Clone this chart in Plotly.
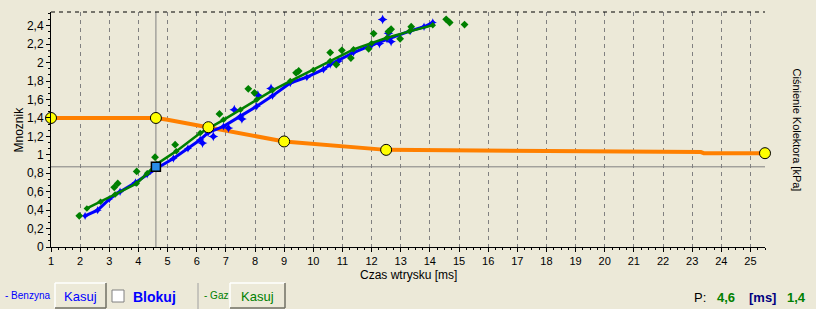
import plotly.graph_objects as go

# ---------------- data ----------------
x_ticks = list(range(1, 26))
y_tickvals = [0, 0.2, 0.4, 0.6, 0.8, 1.0, 1.2, 1.4, 1.6, 1.8, 2.0, 2.2, 2.4]
y_ticktext = ["0", "0,2", "0,4", "0,6", "0,8", "1", "1,2", "1,4", "1,6", "1,8", "2", "2,2", "2,4"]
y2_tickvals = [0, 10, 20, 30, 40, 50, 60, 70, 80, 90, 100]

# multiplier map (orange curve) and its control points
map_x = [1, 4.6, 5.0, 6.4, 9.0, 12.5, 19.0, 23.3, 23.4, 25.5]
map_y = [1.4, 1.4, 1.38, 1.3, 1.145, 1.054, 1.04, 1.03, 1.018, 1.018]
ctrl_x = [1, 4.6, 6.4, 9.0, 12.5, 25.5]
ctrl_y = [1.4, 1.4, 1.3, 1.145, 1.054, 1.018]

# petrol (blue) samples: trend and scattered
benz_x = [2.17, 2.6, 3.0, 3.37, 3.9, 4.3, 4.63, 5.2, 5.7, 6.12, 6.39, 6.92, 7.5, 8.06, 8.6, 9.21, 9.78, 10.35, 10.58, 11.38, 12.0, 12.53, 13.33, 13.8, 14.1]
benz_y = [0.338, 0.4, 0.52, 0.60, 0.70, 0.79, 0.855, 0.96, 1.07, 1.164, 1.24, 1.309, 1.42, 1.527, 1.64, 1.78, 1.843, 1.927, 1.98, 2.11, 2.19, 2.254, 2.345, 2.39, 2.436]
benz_ox = [12.38, 12.58, 12.67, 12.27, 10.86, 7.55, 7.09, 6.57, 7.29, 8.1, 8.55, 6.2]
benz_oy = [2.469, 2.32, 2.229, 2.207, 2.017, 1.39, 1.29, 1.2, 1.49, 1.647, 1.72, 1.128]

# gas (green) samples: trend and scattered
gaz_x = [2.23, 2.7, 3.2, 3.94, 4.3, 4.63, 5.3, 6.12, 6.92, 7.5, 8.06, 8.6, 9.21, 10.0, 10.58, 11.38, 12.0, 12.53, 13.3, 14.1]
gaz_y = [0.419, 0.49, 0.57, 0.69, 0.80, 0.90, 1.04, 1.236, 1.38, 1.49, 1.60, 1.70, 1.80, 1.92, 2.017, 2.145, 2.21, 2.27, 2.34, 2.407]
gaz_ox = [1.97, 3.29, 3.17, 5.26, 4.57, 3.94, 7.77, 7.98, 6.78, 9.41, 9.5, 10.58, 10.98, 10.79, 11.29, 11.9, 12.07, 12.58, 12.67, 12.98, 13.36, 14.56, 14.68, 15.19]
gaz_oy = [0.338, 0.69, 0.648, 1.11, 0.975, 0.82, 1.716, 1.673, 1.444, 1.89, 1.91, 2.11, 2.134, 1.98, 2.05, 2.15, 2.316, 2.338, 2.363, 2.26, 2.39, 2.47, 2.436, 2.414]

cursor_x = [4.6]
cursor_y = [0.87]

# ---------------- layout helpers ----------------
W, H = 816, 309
L, R, T, B = 51, 51, 12, 62
PW, PH = W - L - R, H - T - B
BG = "#ECE9D8"
FONT = "Liberation Sans"


def fx(px):
    return (px - L) / PW


def fy(py):
    return (H - B - py) / PH


fig = go.Figure()

# orange map
fig.add_trace(go.Scatter(x=map_x, y=map_y, mode="lines",
                         line=dict(color="#FF8000", width=4), hoverinfo="skip"))

# blue petrol
fig.add_trace(go.Scatter(x=benz_x, y=benz_y, mode="lines+markers",
                         line=dict(color="#0000FF", width=3),
                         marker=dict(symbol="star-diamond", size=6, color="#0000FF"),
                         hoverinfo="skip"))
fig.add_trace(go.Scatter(x=benz_ox, y=benz_oy, mode="markers",
                         marker=dict(symbol="star-diamond", size=7, color="#0000FF"),
                         hoverinfo="skip"))
# green gas
fig.add_trace(go.Scatter(x=gaz_x, y=gaz_y, mode="lines+markers",
                         line=dict(color="#008000", width=2.5),
                         marker=dict(symbol="diamond", size=5, color="#008000"),
                         hoverinfo="skip"))
fig.add_trace(go.Scatter(x=gaz_ox, y=gaz_oy, mode="markers",
                         marker=dict(symbol="diamond", size=6, color="#008000"),
                         hoverinfo="skip"))

# control points
fig.add_trace(go.Scatter(x=ctrl_x, y=ctrl_y, mode="markers", cliponaxis=False,
                         marker=dict(symbol="circle", size=11, color="#FFFF00",
                                     line=dict(color="#000000", width=1)),
                         hoverinfo="skip"))
# cursor marker
fig.add_trace(go.Scatter(x=cursor_x, y=cursor_y, mode="markers",
                         marker=dict(symbol="square", size=9, color="#2A8CE8",
                                     line=dict(color="#000000", width=1.5)),
                         hoverinfo="skip"))

shapes = []
# cursor crosshair
shapes.append(dict(type="line", xref="x", yref="paper", x0=cursor_x[0], x1=cursor_x[0], y0=0, y1=1,
                   line=dict(color="#808080", width=1), layer="below"))
shapes.append(dict(type="line", xref="paper", yref="y", x0=0, x1=1, y0=cursor_y[0], y1=cursor_y[0],
                   line=dict(color="#808080", width=1), layer="below"))
# dashed top border
shapes.append(dict(type="line", xref="paper", yref="paper", x0=0, x1=1, y0=1, y1=1,
                   line=dict(color="#000000", width=1, dash="4px,4px")))


def button(x0, y0, x1, y1):
    out = [dict(type="rect", xref="paper", yref="paper", x0=fx(x0), x1=fx(x1), y0=fy(y1), y1=fy(y0),
                fillcolor=BG, line=dict(width=0))]
    out.append(dict(type="line", xref="paper", yref="paper", x0=fx(x0), x1=fx(x1), y0=fy(y0), y1=fy(y0),
                    line=dict(color="#FFFFFF", width=1.5)))
    out.append(dict(type="line", xref="paper", yref="paper", x0=fx(x0), x1=fx(x0), y0=fy(y0), y1=fy(y1),
                    line=dict(color="#FFFFFF", width=1.5)))
    out.append(dict(type="line", xref="paper", yref="paper", x0=fx(x0), x1=fx(x1), y0=fy(y1), y1=fy(y1),
                    line=dict(color="#716F64", width=1.5)))
    out.append(dict(type="line", xref="paper", yref="paper", x0=fx(x1), x1=fx(x1), y0=fy(y0), y1=fy(y1),
                    line=dict(color="#716F64", width=1.5)))
    return out


shapes += button(55, 283, 106, 308)
shapes += button(230, 283, 285, 308)
# checkbox
shapes.append(dict(type="rect", xref="paper", yref="paper", x0=fx(112), x1=fx(124), y0=fy(302), y1=fy(290),
                   fillcolor="#FFFFFF", line=dict(color="#808080", width=1)))
# separator
shapes.append(dict(type="line", xref="paper", yref="paper", x0=fx(198), x1=fx(198), y0=fy(283), y1=fy(309),
                   line=dict(color="#A0A0A0", width=1)))


def label(text, px, py, size, color, xanchor="center", angle=0):
    return dict(text=text, x=fx(px), y=fy(py), xref="paper", yref="paper", xanchor=xanchor,
                yanchor="middle", textangle=angle, showarrow=False,
                font=dict(family=FONT, size=size, color=color))


annotations = [
    label("Mnoznik", 18, 129.5, 12, "#000000", angle=-90),
    label("Ciśnienie Kolektora [kPa]", 797, 129.5, 11, "#000000", angle=90),
    label("Czas wtrysku [ms]", 408, 275, 12, "#000000"),
    label("- Benzyna", 3, 295, 10, "#0000FF", xanchor="left"),
    label("Kasuj", 80.5, 296, 13, "#0000FF"),
    label("<b>Blokuj</b>", 131, 296.5, 14, "#0000FF", xanchor="left"),
    label("- Gaz", 202, 295, 10, "#008000", xanchor="left"),
    label("Kasuj", 257.5, 296, 13, "#008000"),
    label("P:", 692, 297, 13, "#000000", xanchor="left"),
    label("<b>4,6</b>", 715, 297, 13, "#008000", xanchor="left"),
    label("<b>[ms]</b>", 747, 297, 13, "#000080", xanchor="left"),
    label("<b>1,4</b>", 785, 297, 13, "#008000", xanchor="left"),
]

fig.update_layout(
    width=W, height=H,
    margin=dict(l=L, r=R, t=T, b=B, pad=0),
    paper_bgcolor=BG, plot_bgcolor=BG,
    showlegend=False,
    separators=", ",
    font=dict(family=FONT, size=12, color="#000000"),
    xaxis=dict(range=[1, 25.5], tickvals=x_ticks, ticktext=[str(v) for v in x_ticks],
               showgrid=True, gridcolor="#808080", griddash="4px,4px", gridwidth=1,
               zeroline=False, showline=True, linecolor="#000000", linewidth=1,
               ticks="outside", ticklen=4, tickcolor="#000000",
               minor=dict(dtick=0.25, tick0=1, ticks="outside", ticklen=2, tickcolor="#000000", showgrid=False),
               tickfont=dict(family=FONT, size=11), fixedrange=True),
    yaxis=dict(range=[0, 2.55], tickvals=y_tickvals, ticktext=y_ticktext,
               showgrid=False, zeroline=False, showline=True, linecolor="#000000", linewidth=1,
               ticks="outside", ticklen=4, tickcolor="#000000",
               minor=dict(dtick=0.2 / 3, tick0=0, ticks="outside", ticklen=2, tickcolor="#000000", showgrid=False),
               tickfont=dict(family=FONT, size=12), fixedrange=True),
    yaxis2=dict(range=[0, 100], tickvals=y2_tickvals, ticktext=[str(v) for v in y2_tickvals],
                overlaying="y", side="right", anchor="x",
                showgrid=True, gridcolor="#808080", griddash="4px,4px", gridwidth=1,
                zeroline=False, showline=True, linecolor="#000000", linewidth=1,
                ticks="outside", ticklen=4, tickcolor="#000000",
                minor=dict(dtick=5, tick0=0, ticks="outside", ticklen=2, tickcolor="#000000", showgrid=False),
                tickfont=dict(family=FONT, size=12), fixedrange=True),
    shapes=shapes,
    annotations=annotations,
)

fig.write_html("out.html")
